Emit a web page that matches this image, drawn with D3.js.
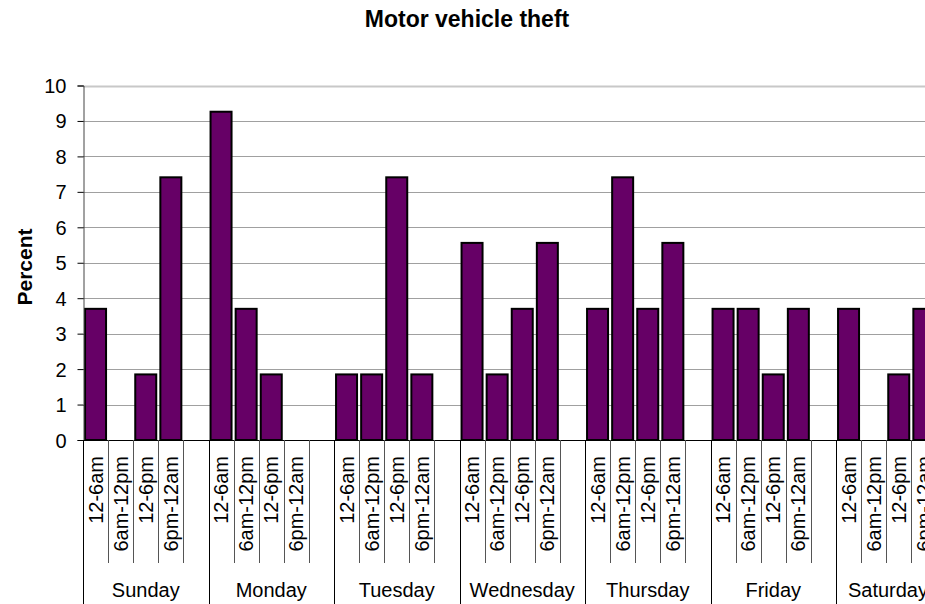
<!DOCTYPE html>
<html>
<head>
<meta charset="utf-8">
<script src="https://cdn.jsdelivr.net/npm/d3@7"></script>
<style>
  html, body { margin: 0; padding: 0; background: #fff; }
  svg { display: block; font-family: "Liberation Sans", Arial, sans-serif; }
</style>
</head>
<body>
<svg id="chart" width="925" height="604"></svg>
<script>
// ---- data ----
const days = ["Sunday", "Monday", "Tuesday", "Wednesday", "Thursday", "Friday", "Saturday"];
const timeSlots = ["12-6am", "6am-12pm", "12-6pm", "6pm-12am"];
const sunday    = [3.70, 0,    1.85, 7.41];
const monday    = [9.26, 3.70, 1.85, 0];
const tuesday   = [1.85, 1.85, 7.41, 1.85];
const wednesday = [5.56, 1.85, 3.70, 5.56];
const thursday  = [3.70, 7.41, 3.70, 5.56];
const friday    = [3.70, 3.70, 1.85, 3.70];
const saturday  = [3.70, 0,    1.85, 3.70];
const yTicks = [0, 1, 2, 3, 4, 5, 6, 7, 8, 9, 10];
const chartTitle = "Motor vehicle theft";
const yLabel = "Percent";

(function () {
const dayValues = [sunday, monday, tuesday, wednesday, thursday, friday, saturday];

// slots: 4 time slots + 1 blank per day
const slots = [];
days.forEach((d, di) => {
  timeSlots.forEach((t, ti) => slots.push({ key: d + "|" + t, day: d, label: t, value: dayValues[di][ti], blank: false }));
  slots.push({ key: d + "|blank", day: d, label: "", value: null, blank: true });
});

const svg = d3.select("#chart");
const mLeft = 83, mTop = 85.5, mBottom = 440;
const slotW = 25.1;
const mRight = mLeft + slots.length * slotW;
const FS = 20;

const x = d3.scaleBand().domain(slots.map(s => s.key)).range([mLeft, mRight]).paddingInner(0).paddingOuter(0);
const y = d3.scaleLinear().domain([0, 10]).range([mBottom, mTop]);

// title
svg.append("text").attr("x", 467).attr("y", 27).attr("text-anchor", "middle")
  .attr("font-weight", "bold").attr("font-size", 23).text(chartTitle);

// y label
svg.append("text").attr("transform", "translate(32," + 267 + ") rotate(-90)")
  .attr("text-anchor", "middle").attr("font-weight", "bold").attr("font-size", 21).text(yLabel);

// gridlines
svg.append("g").selectAll("line").data(yTicks.filter(t => t > 0)).join("line")
  .attr("x1", mLeft).attr("x2", 925)
  .attr("y1", d => Math.round(y(d)) + 0.5).attr("y2", d => Math.round(y(d)) + 0.5)
  .attr("stroke", d => d === 10 ? "#c8c8c8" : "#a0a0a0")
  .attr("stroke-width", d => d === 10 ? 2 : 1);

// bars
const bw = 22;
svg.append("g").selectAll("rect").data(slots.filter(s => !s.blank && s.value > 0)).join("rect")
  .attr("x", d => x(d.key) + (x.bandwidth() - bw) / 2 + 0.5)
  .attr("width", bw - 1)
  .attr("y", d => y(d.value))
  .attr("height", d => y(0) - y(d.value))
  .attr("fill", "#660066").attr("stroke", "#000").attr("stroke-width", 2);

// y axis
const yAxis = d3.axisLeft(y).tickValues(yTicks).tickSize(6).tickFormat(d3.format("d"));
const gy = svg.append("g").attr("transform", "translate(" + (mLeft + 0.5) + ",0)").call(yAxis);
gy.select(".domain").attr("stroke", "#444");
gy.selectAll(".tick line").attr("stroke", "#000");
gy.selectAll(".tick text").attr("font-size", FS).attr("font-family", "Liberation Sans, Arial, sans-serif")
  .attr("fill", "#000").attr("x", -17).attr("dy", "0.35em");

// x axis baseline
svg.append("line").attr("x1", mLeft).attr("x2", 925).attr("y1", mBottom + 0.5).attr("y2", mBottom + 0.5)
  .attr("stroke", "#000");

// slot separators
const boundaries = d3.range(slots.length + 1);
svg.append("g").selectAll("line").data(boundaries).join("line")
  .attr("x1", i => Math.round(mLeft + i * x.step()) + 0.5)
  .attr("x2", i => Math.round(mLeft + i * x.step()) + 0.5)
  .attr("y1", mBottom)
  .attr("y2", i => i % 5 === 0 ? 604 : 563)
  .attr("stroke", i => i % 5 === 0 ? "#000" : "#555");

// slot labels
svg.append("g").selectAll("text").data(slots.filter(s => !s.blank)).join("text")
  .attr("transform", d => "translate(" + (x(d.key) + x.bandwidth() / 2 + 7) + ",456) rotate(-90)")
  .attr("text-anchor", "end").attr("font-size", FS).text(d => d.label);

// day labels (last one pulled in so it ends near the right edge, as in the original)
svg.append("g").selectAll("text").data(days).join("text")
  .attr("y", 597).attr("text-anchor", "middle").attr("font-size", FS).text(d => d)
  .attr("x", function (d, i) {
    const c = mLeft + (i * 5 + 2.5) * x.step();
    const w = this.getComputedTextLength();
    return Math.min(c, 928 - w / 2);
  });
})();
</script>
</body>
</html>
